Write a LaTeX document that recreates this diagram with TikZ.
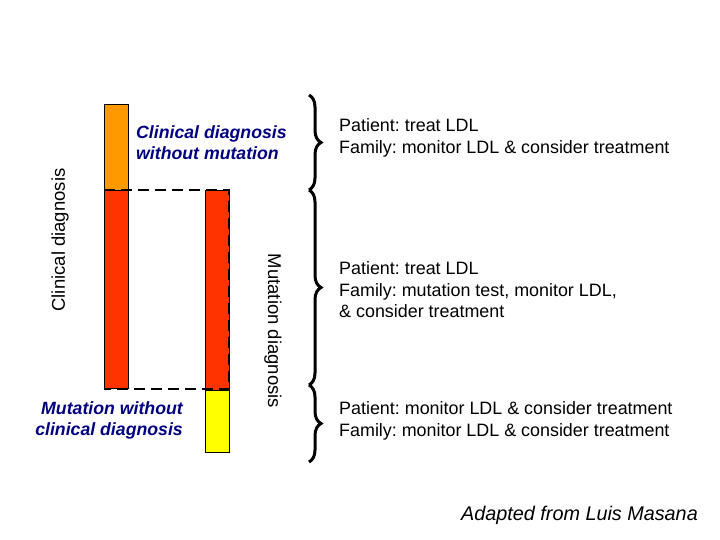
\documentclass[tikz,border=0pt]{standalone}
\usepackage{fontspec}
\setmainfont{Liberation Sans}
\usetikzlibrary{decorations.pathreplacing}
\definecolor{barorange}{HTML}{FF9900}
\definecolor{barred}{HTML}{FF3300}
\definecolor{baryellow}{HTML}{FFFF00}
\definecolor{navytext}{HTML}{000080}
\frenchspacing
\tikzset{
  bar/.style={draw=black, line width=0.8bp},
  txt/.style={font=\fontsize{17.9bp}{21.5bp}\selectfont, inner sep=0pt, align=left},
  navy/.style={txt, text=navytext, font=\fontsize{17.7bp}{21bp}\selectfont\bfseries\itshape},
  dashline/.style={draw=black, line width=2.4bp, dash pattern=on 11bp off 6bp},
  bracestyle/.style={draw=black, line width=3bp, decorate, decoration={brace, mirror, amplitude=12bp, raise=0bp}}
}
\begin{document}
\begin{tikzpicture}[x=1bp,y=-1bp]
\useasboundingbox (0,0) rectangle (720,540);
% bars
\filldraw[bar, fill=barorange] (104,104) rectangle (128,190);
\filldraw[bar, fill=barred] (104,190) rectangle (128,388);
\filldraw[bar, fill=barred] (205,190) rectangle (229,390);
\filldraw[bar, fill=baryellow] (205,390) rectangle (229,452);
% dashed frame
\coordinate (d1) at (104,190);
\coordinate (d2) at (229,190);
\coordinate (d3) at (229,389);
\coordinate (d4) at (104,389);
\draw[dashline] (d1) -- (d2) -- (d3) -- (d4);
% rotated labels
\node[txt, rotate=90, font=\fontsize{18.5bp}{22bp}\selectfont] (clin) at (60,240) {Clinical diagnosis};
\node[txt, rotate=-90, font=\fontsize{18.5bp}{22bp}\selectfont] (mut) at (273,331) {Mutation diagnosis};
% navy labels
\node[navy, anchor=west] (cdwm) at (136,143) {Clinical diagnosis\\without mutation};
\node[navy, anchor=east, align=right] (mwcd) at (183,420) {Mutation without\\clinical diagnosis};
% braces
\coordinate (b1t) at (309,95);
\coordinate (b1b) at (309,190);
\coordinate (b2b) at (309,385);
\coordinate (b3b) at (309,462);
\draw[bracestyle] (b1b) -- (b1t);
\draw[bracestyle] (b2b) -- (b1b);
\draw[bracestyle] (b3b) -- (b2b);
% right texts
\node[txt, anchor=west] (t1) at (339,138) {Patient: treat LDL\\Family: monitor LDL \& consider treatment};
\node[txt, anchor=west] (t2) at (339,290) {Patient: treat LDL\\Family: mutation test, monitor LDL,\\\& consider treatment};
\node[txt, anchor=west] (t3) at (339,421) {Patient: monitor LDL \& consider treatment\\Family: monitor LDL \& consider treatment};
\node[txt, anchor=east, font=\fontsize{19.8bp}{22bp}\selectfont\itshape] (src) at (698,515) {Adapted from Luis Masana};
\end{tikzpicture}
\end{document}
